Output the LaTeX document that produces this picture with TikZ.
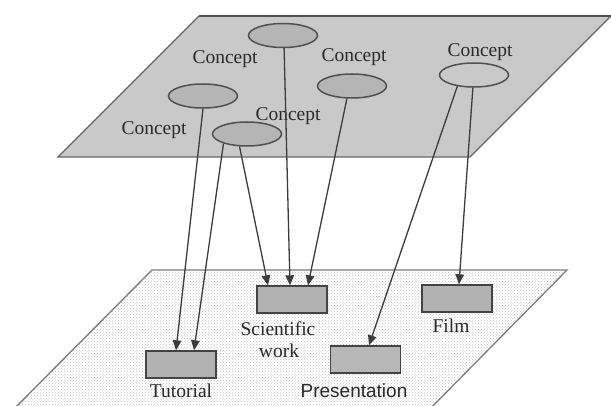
\documentclass[tikz,border=0pt]{standalone}
\usepackage{fontspec}
\setmainfont{Liberation Serif}
\newfontfamily\labelsans{Liberation Sans}
\usetikzlibrary{shapes.geometric,arrows.meta,patterns}

\definecolor{planefill}{HTML}{C9C9C9}
\definecolor{planeline}{HTML}{666666}
\definecolor{ellfill}{HTML}{B5B5B5}
\definecolor{ellline}{HTML}{505050}
\definecolor{boxfill}{HTML}{B2B2B2}
\definecolor{boxline}{HTML}{444444}
\definecolor{linkcol}{HTML}{3C3C3C}
\definecolor{textcol}{HTML}{2A2A2A}
\definecolor{dotcol}{HTML}{C4C4C4}

\begin{document}
\begin{tikzpicture}[x=1pt,y=-1pt,
  concept/.style={ellipse, draw=ellline, line width=1.5pt, fill=ellfill,
    minimum width=69pt, minimum height=24pt, inner sep=0pt},
  doc/.style={rectangle, draw=boxline, line width=1.4pt, fill=boxfill,
    minimum width=70pt, minimum height=27pt, inner sep=0pt},
  lbl/.style={text=textcol, font=\fontsize{19.5}{24}\selectfont,
    inner sep=0pt, anchor=base},
  link/.style={draw=linkcol, line width=1.3pt,
    -{Triangle[length=10pt,width=8.5pt]}}]

% canvas
\useasboundingbox (0,0) rectangle (611,406);
\fill[white] (0,0) rectangle (611,406);
\clip (0,0) rectangle (611,406);

% lower plane: documents
\fill[white] (152,270) -- (567,270) -- (419,420) -- (3,420) -- cycle;
\fill[pattern=crosshatch dots, pattern color=dotcol]
  (152,270) -- (567,270) -- (419,420) -- (3,420) -- cycle;
\draw[planeline!85, line width=1.3pt]
  (3,420) -- (152,270) -- (567,270) -- (419,420);

% upper plane: concepts
\fill[planefill] (199,16) -- (611,16) -- (470,157) -- (58,157) -- cycle;
\draw[planeline, line width=1.3pt] (611,16) -- (470,157) -- (58,157) -- (199,16);
\draw[ellline, line width=1.7pt] (199,16) -- (611,16);

% concepts
\node[concept] (ctop)   at (283,35.5) {};
\node[concept] (cleft)  at (203,96)   {};
\node[concept] (cmid)   at (247,134)  {};
\node[concept] (cright) at (352,86)   {};
\node[concept, fill=planefill] (cfar) at (474,75) {};

\node[lbl] (lctop)   at (225,64)  {Concept};
\node[lbl] (lcright) at (354,62)  {Concept};
\node[lbl] (lcfar)   at (480,57)  {Concept};
\node[lbl] (lcleft)  at (154,135) {Concept};
\node[lbl] (lcmid)   at (288,121) {Concept};

% documents
\node[doc] (tut)  at (181,364.5)   {};
\node[doc] (sci)  at (292,299.5)   {};
\node[doc] (film) at (457,298.5)   {};
\node[doc, fill=boxfill!80!planefill] (pres) at (365.5,359.5) {};

\node[lbl] (ltut)  at (181,397) {Tutorial};
\node[lbl] (lsci)  at (278,335) {Scientific};
\node[lbl] (lwork) at (279,357) {work};
\node[lbl] (lfilm) at (451,333) {Film};
\node[lbl, font=\labelsans\fontsize{19}{24}\selectfont] (lpres) at (354,397) {Presentation};

% links from concepts to documents
\draw[link] (cleft.south) -- ([xshift=-5pt]tut.north);
\draw[link] (cmid.-158)   -- ([xshift=13pt]tut.north);
\draw[link] (cmid.-121)   -- ([xshift=-24pt]sci.north);
\draw[link] (ctop.-85)    -- ([xshift=-2pt]sci.north);
\draw[link] (cright.-112) -- ([xshift=16pt]sci.north);
\draw[link] (cfar.-146)   -- ([xshift=3.5pt]pres.north);
\draw[link] (cfar.-95)    -- ([xshift=2pt]film.north);
\end{tikzpicture}
\end{document}
